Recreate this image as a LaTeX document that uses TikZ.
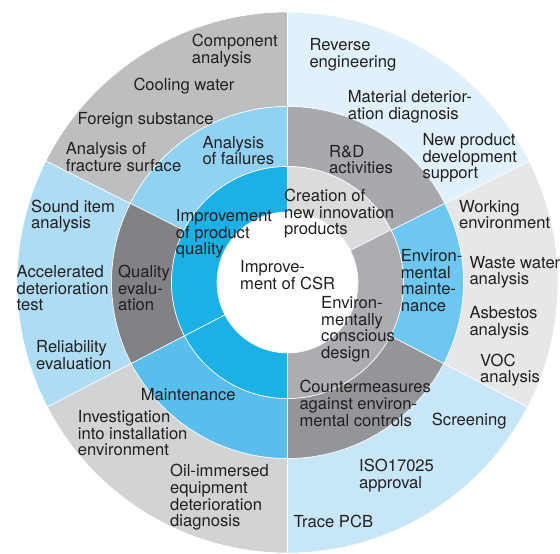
\documentclass[tikz,border=0pt]{standalone}
\usepackage{fontspec}
\setmainfont{TeX Gyre Heros}
\definecolor{ink}{HTML}{231F20}
% outer ring
\definecolor{oRD}{HTML}{E0F1FB}
\definecolor{oQual}{HTML}{BCBEC0}
\definecolor{oEval}{HTML}{AEDCF4}
\definecolor{oMaint}{HTML}{D1D3D4}
\definecolor{oCounter}{HTML}{C7E6F7}
\definecolor{oEnv}{HTML}{E6E7E8}
% middle ring
\definecolor{mRD}{HTML}{A7A9AC}
\definecolor{mFail}{HTML}{91D2F2}
\definecolor{mEval}{HTML}{808285}
\definecolor{mMaint}{HTML}{5ABEEC}
\definecolor{mCounter}{HTML}{939598}
\definecolor{mEnv}{HTML}{6DC7F0}
% inner ring
\definecolor{iCreate}{HTML}{DADBDD}
\definecolor{iQual}{HTML}{1BB1E7}
\definecolor{iDesign}{HTML}{ABADB0}
% ring segment: colour, start angle, end angle, inner radius, outer radius
\newcommand\ringseg[5]{%
  \filldraw[segline, fill=#1] (#2:#4) -- (#2:#5)
    arc[start angle=#2, end angle=#3, radius=#5] -- (#3:#4)
    arc[start angle=#3, end angle=#2, radius=#4] -- cycle;}
\begin{document}
\begin{tikzpicture}[x=1pt, y=1pt,
  lbl/.style={inner sep=0pt, anchor=base west, align=left, text=ink,
    font=\fontsize{16.6}{16.6}\selectfont},
  % a multi-line label sits on its last baseline: move it down so that
  % the given point is the baseline of its first line
  nl/.style={yshift={-(#1-1)*16.6pt}},
  segline/.style={draw=white, line width=0.6pt}]
\useasboundingbox (0,0) rectangle (560,554);

\begin{scope}[shift={(287.5,271.5)}]
  % outer ring
  \ringseg{oRD}{26.7}{90}{176}{270.5}
  \ringseg{oQual}{90}{153.3}{176}{270.5}
  \ringseg{oEval}{153.3}{207.4}{176}{270.5}
  \ringseg{oMaint}{207.4}{270}{176}{270.5}
  \ringseg{oCounter}{270}{332.6}{176}{270.5}
  \ringseg{oEnv}{-27.4}{26.7}{176}{270.5}
  % middle ring
  \ringseg{mRD}{26.7}{90}{116}{176}
  \ringseg{mFail}{90}{153.3}{116}{176}
  \ringseg{mEval}{153.3}{207.4}{116}{176}
  \ringseg{mMaint}{207.4}{270}{116}{176}
  \ringseg{mCounter}{270}{332.6}{116}{176}
  \ringseg{mEnv}{-27.4}{26.7}{116}{176}
  % inner ring
  \ringseg{iCreate}{27}{90}{70.5}{116}
  \ringseg{iQual}{90}{207.4}{70.5}{116}
  \ringseg{iQual}{207.4}{270}{70.5}{116}
  \ringseg{iDesign}{-90}{27}{70.5}{116}
\end{scope}

\begin{scope}[shift={(0pt,554pt)}, y=-1pt]
  % outer ring, upper left
  \node[lbl, nl=2] (t1) at (191.7,46.7) {Component\\analysis};
  \node[lbl] (t2) at (133.3,91) {Cooling water};
  \node[lbl] (t3) at (77.3,124.3) {Foreign substance};
  \node[lbl, nl=2] (t4) at (65.7,155) {Analysis of\\fracture surface};
  % outer ring, left
  \node[lbl, nl=2] (t6) at (31,212.3) {Sound item\\analysis};
  \node[lbl, nl=3] (t8) at (16.5,277.7) {Accelerated\\deterioration\\test};
  \node[lbl, nl=2] (t10) at (36,353) {Reliability\\evaluation};
  % outer ring, lower left
  \node[lbl, nl=3] (t12) at (77.7,422.7) {Investigation\\into installation\\environment};
  \node[lbl, nl=4] (t13) at (170,477) {Oil-immersed\\equipment\\deterioration\\diagnosis};
  % outer ring, upper right
  \node[lbl, nl=2] (t14) at (309.3,50.7) {Reverse\\engineering};
  \node[lbl, nl=2] (t15) at (347.7,102.7) {Material deterior-\\ation diagnosis};
  \node[lbl, nl=3] (t16) at (422.3,145.7) {New product\\development\\support};
  % outer ring, right
  \node[lbl, nl=2] (t18) at (459,212.3) {Working\\environment};
  \node[lbl, nl=2] (t21) at (469.3,268.3) {Waste water\\analysis};
  \node[lbl, nl=2] (t22) at (469.3,318.7) {Asbestos\\analysis};
  \node[lbl, nl=2] (t23) at (480,366.3) {VOC\\analysis};
  % outer ring, lower right
  \node[lbl] (t27) at (431.7,426) {Screening};
  \node[lbl, nl=2] (t28) at (359,472) {ISO17025\\approval};
  \node[lbl] (t29) at (293.3,527.7) {Trace PCB};
  % middle ring
  \node[lbl, nl=2] (t5) at (202.3,148.3) {Analysis\\of failures};
  \node[lbl, nl=2] (t17) at (329,157.3) {R\&D\\activities};
  \node[lbl, nl=4] (t20) at (400.7,261.7) {Environ-\\mental\\mainte-\\nance};
  \node[lbl, nl=3] (t26) at (299.3,393) {Countermeasures\\against environ-\\mental controls};
  \node[lbl] (t11) at (140.7,401) {Maintenance};
  \node[lbl, nl=3] (t9) at (118,277.7) {Quality\\evalu-\\ation};
  % inner ring
  \node[lbl, nl=3] (t7) at (175.7,221.7) {Improvement\\of product\\quality};
  \node[lbl, nl=3] (t19) at (284,201.7) {Creation of\\new innovation\\products};
  \node[lbl, nl=4] (t24) at (321,308.7) {Environ-\\mentally\\conscious\\design};
  % centre
  \node[lbl, nl=2] (t25) at (240,272.5) {Improve-\\ment of CSR};
\end{scope}
\end{tikzpicture}
\end{document}
